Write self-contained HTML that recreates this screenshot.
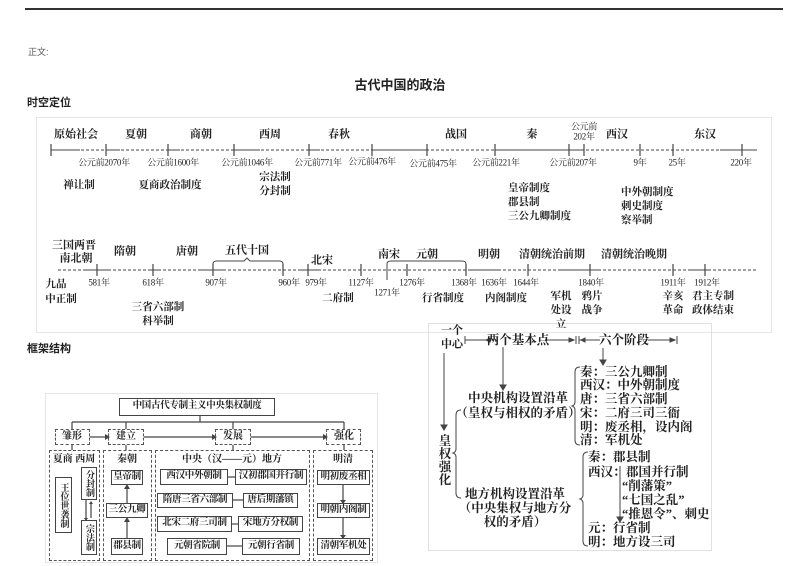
<!DOCTYPE html>
<html><head><meta charset="utf-8"><style>
*{margin:0;padding:0;box-sizing:border-box}
body{width:800px;height:566px;position:relative;background:#fff;overflow:hidden;font-family:"Liberation Serif","Noto Serif CJK SC",serif;color:#222}
.t{position:absolute;white-space:nowrap;transform:translate(-50%,-50%);line-height:1}
.l{position:absolute;white-space:nowrap;line-height:1}
.s{font-family:"Liberation Sans","Noto Sans CJK SC",sans-serif}
.lb{font-size:11px;font-weight:bold}
.d{font-size:9px;letter-spacing:-0.3px}
.m{font-size:10.5px;font-weight:bold}
.bx{position:absolute;border:1.5px solid #444;font-size:9.5px;font-weight:bold;display:flex;align-items:center;justify-content:center;background:#fff;line-height:1.05;text-align:center;white-space:nowrap;letter-spacing:-0.3px}
.v{font-size:9px;letter-spacing:0;line-height:1.1}
.dbx{position:absolute;border:1.2px dashed #555}
.r{font-size:12.5px;font-weight:bold}
svg{position:absolute;left:0;top:0}
</style></head><body>
<div style="position:absolute;left:25px;top:8px;width:758px;height:2px;background:#333"></div>
<div class="l s" style="left:28px;top:48px;font-size:9px;color:#555">正文:</div>
<div class="t s" style="left:400px;top:85px;font-size:13px;font-weight:bold">古代中国的政治</div>
<div class="l s" style="left:27px;top:98px;font-size:11px;font-weight:bold">时空定位</div>
<div style="position:absolute;left:36px;top:117px;width:736px;height:216px;border:1px solid #e6e6e6"></div>
<div class="l s" style="left:27px;top:344px;font-size:11px;font-weight:bold">框架结构</div>
<div style="position:absolute;left:45px;top:393px;width:333px;height:170px;border:1px solid #e6e6e6"></div>
<div style="position:absolute;left:428px;top:323px;width:284px;height:228px;border:1px solid #e0e0e0"></div>

<svg width="800" height="566" viewBox="0 0 800 566">
<g stroke="#444" stroke-width="1" fill="none">
<line x1="51" y1="150" x2="757" y2="150" stroke-dasharray="3,2"/>
<line x1="51" y1="150" x2="80" y2="150"/><line x1="106" y1="150" x2="120" y2="150"/><line x1="168" y1="150" x2="180" y2="150"/><line x1="234" y1="150" x2="260" y2="150"/><line x1="309" y1="150" x2="320" y2="150"/><line x1="372" y1="150" x2="427" y2="150"/><line x1="495" y1="150" x2="569" y2="150"/><line x1="569" y1="150" x2="584" y2="150"/><line x1="720" y1="150" x2="757" y2="150"/>
<g stroke-width="1.2">
<line x1="51" y1="144" x2="51" y2="156"/><line x1="106" y1="144" x2="106" y2="156"/><line x1="168" y1="144" x2="168" y2="156"/><line x1="234" y1="144" x2="234" y2="156"/><line x1="309" y1="144" x2="309" y2="156"/><line x1="372" y1="144" x2="372" y2="156"/><line x1="427" y1="144" x2="427" y2="156"/><line x1="495" y1="144" x2="495" y2="156"/><line x1="569" y1="144" x2="569" y2="156"/><line x1="584" y1="144" x2="584" y2="156"/><line x1="640" y1="144" x2="640" y2="156"/><line x1="673" y1="144" x2="673" y2="156"/><line x1="742" y1="144" x2="742" y2="156"/>
</g>
<line x1="58" y1="270" x2="757" y2="270" stroke-dasharray="3,2"/>
<line x1="85" y1="270" x2="110" y2="270"/><line x1="150" y1="270" x2="160" y2="270"/><line x1="200" y1="270" x2="225" y2="270"/><line x1="300" y1="270" x2="320" y2="270"/><line x1="470" y1="270" x2="500" y2="270"/><line x1="560" y1="270" x2="600" y2="270"/><line x1="690" y1="270" x2="710" y2="270"/>
<g stroke-width="1.2">
<line x1="97" y1="264" x2="97" y2="276"/><line x1="153" y1="264" x2="153" y2="276"/><line x1="213" y1="264" x2="213" y2="276"/><line x1="283" y1="264" x2="283" y2="276"/><line x1="308" y1="264" x2="308" y2="276"/><line x1="361" y1="264" x2="361" y2="276"/><line x1="407" y1="264" x2="407" y2="276"/><line x1="466" y1="264" x2="466" y2="276"/><line x1="528" y1="264" x2="528" y2="276"/><line x1="590" y1="264" x2="590" y2="276"/><line x1="673" y1="264" x2="673" y2="276"/><line x1="705" y1="264" x2="705" y2="276"/>
</g>
<path d="M213 270 V264 Q213 261 217 261 H244 L247 258 L250 261 H279 Q283 261 283 264 V270"/>
<path d="M387 280 V264 Q387 261 391 261 H462 Q466 261 466 264 V270"/>

<g stroke-width="1.2">
<line x1="200" y1="416" x2="200" y2="422"/>
<line x1="72" y1="422" x2="344" y2="422"/>
<line x1="72" y1="422" x2="72" y2="429"/><line x1="126" y1="422" x2="126" y2="429"/><line x1="233" y1="422" x2="233" y2="429"/><line x1="344" y1="422" x2="344" y2="429"/>
<line x1="90" y1="437" x2="105" y2="437"/><line x1="144" y1="437" x2="212" y2="437"/><line x1="251" y1="437" x2="323" y2="437"/>
<line x1="72" y1="445" x2="72" y2="450"/><line x1="126" y1="445" x2="126" y2="450"/><line x1="233" y1="445" x2="233" y2="450"/><line x1="344" y1="445" x2="344" y2="450"/>
<line x1="127" y1="503" x2="127" y2="488"/><line x1="127" y1="538" x2="127" y2="521"/>
<line x1="228" y1="477" x2="235" y2="477"/><line x1="233" y1="500" x2="243" y2="500"/><line x1="232" y1="524" x2="238" y2="524"/><line x1="227" y1="546" x2="242" y2="546"/>
<line x1="343" y1="485" x2="343" y2="500"/><line x1="343" y1="518" x2="343" y2="535"/>
<line x1="86" y1="500" x2="86" y2="520"/><line x1="91" y1="503" x2="91" y2="518"/>
</g>
<g fill="#444" stroke="none">
<path d="M105 434 L110 437 L105 440Z"/><path d="M212 434 L217 437 L212 440Z"/><path d="M323 434 L328 437 L323 440Z"/>
<path d="M124 489 L127 484 L130 489Z"/><path d="M124 522 L127 517 L130 522Z"/>
<path d="M340 500 L343 504 L346 500Z"/><path d="M340 535 L343 539 L346 535Z"/>
<path d="M84 518 L86 521 L88 518Z"/><path d="M89 504 L91 501 L93 504Z"/>
</g>

<g stroke-width="1">
<line x1="465" y1="336" x2="465" y2="344"/><line x1="465" y1="340" x2="490" y2="340"/><line x1="545" y1="340" x2="573" y2="340"/><line x1="576" y1="336" x2="576" y2="344"/>
<line x1="579" y1="336" x2="579" y2="344"/><line x1="579" y1="340" x2="600" y2="340"/><line x1="648" y1="340" x2="672" y2="340"/><line x1="677" y1="336" x2="677" y2="344"/>
<line x1="503" y1="347" x2="503" y2="386"/><line x1="603" y1="348" x2="603" y2="361"/><line x1="444" y1="353" x2="444" y2="426"/>
<line x1="620" y1="466" x2="620" y2="518"/>
<path d="M461 410 Q456 410 456 415 V449 Q456 452 453 453 Q456 454 456 457 V493 Q456 498 461 498"/>
<path d="M580 367 Q575 367 575 372 V402 Q575 405 572 406 Q575 407 575 410 V440 Q575 445 580 445"/>
<path d="M588 452 Q583 452 583 457 V495 Q583 498 580 499 Q583 500 583 503 V541 Q583 546 588 546"/>
</g>
<g fill="#444">
<path d="M486 338 L490 340 L486 342Z" transform="rotate(180 488 340)"/><path d="M569 338 L574 340 L569 342Z"/>
<path d="M581 338 L585 340 L581 342Z" transform="rotate(180 583 340)"/><path d="M670 338 L675 340 L670 342Z"/>
<path d="M500 385 L503 390 L506 385Z"/><path d="M600 360 L603 365 L606 360Z"/><path d="M441 425 L444 430 L447 425Z"/><path d="M617 517 L620 522 L623 517Z"/>
</g>
</g>
</svg>

<div class="t lb" style="left:76px;top:135px">原始社会</div>
<div class="t lb" style="left:136px;top:135px">夏朝</div>
<div class="t lb" style="left:201px;top:135px">商朝</div>
<div class="t lb" style="left:270px;top:135px">西周</div>
<div class="t lb" style="left:339px;top:135px">春秋</div>
<div class="t lb" style="left:456px;top:135px">战国</div>
<div class="t lb" style="left:532px;top:135px">秦</div>
<div class="t d" style="left:584px;top:127px">公元前</div>
<div class="t d" style="left:584px;top:137px">202年</div>
<div class="t lb" style="left:617px;top:135px">西汉</div>
<div class="t lb" style="left:705px;top:135px">东汉</div>
<div class="t d" style="left:104px;top:163px">公元前2070年</div>
<div class="t d" style="left:173px;top:163px">公元前1600年</div>
<div class="t d" style="left:247px;top:163px">公元前1046年</div>
<div class="t d" style="left:318px;top:163px">公元前771年</div>
<div class="t d" style="left:372px;top:162px">公元前476年</div>
<div class="t d" style="left:433px;top:164px">公元前475年</div>
<div class="t d" style="left:496px;top:163px">公元前221年</div>
<div class="t d" style="left:573px;top:163px">公元前207年</div>
<div class="t d" style="left:640px;top:163px">9年</div>
<div class="t d" style="left:677px;top:163px">25年</div>
<div class="t d" style="left:741px;top:163px">220年</div>
<div class="t m" style="left:79px;top:186px">禅让制</div>
<div class="t m" style="left:170px;top:186px">夏商政治制度</div>
<div class="t m" style="left:275px;top:178px">宗法制</div>
<div class="t m" style="left:275px;top:192px">分封制</div>
<div class="l m" style="left:508px;top:184px">皇帝制度</div>
<div class="l m" style="left:508px;top:198px">郡县制</div>
<div class="l m" style="left:508px;top:212px">三公九卿制度</div>
<div class="l m" style="left:621px;top:188px">中外朝制度</div>
<div class="l m" style="left:621px;top:202px">刺史制度</div>
<div class="l m" style="left:621px;top:216px">察举制</div>

<div class="t lb" style="left:74px;top:246px">三国两晋</div>
<div class="t lb" style="left:76px;top:259px">南北朝</div>
<div class="t lb" style="left:125px;top:252px">隋朝</div>
<div class="t lb" style="left:187px;top:252px">唐朝</div>
<div class="t lb" style="left:247px;top:251px">五代十国</div>
<div class="t lb" style="left:322px;top:261px">北宋</div>
<div class="t lb" style="left:389px;top:255px">南宋</div>
<div class="t lb" style="left:427px;top:255px">元朝</div>
<div class="t lb" style="left:489px;top:255px">明朝</div>
<div class="t lb" style="left:552px;top:255px">清朝统治前期</div>
<div class="t lb" style="left:634px;top:255px">清朝统治晚期</div>
<div class="t d" style="left:99px;top:283px">581年</div>
<div class="t d" style="left:153px;top:283px">618年</div>
<div class="t d" style="left:216px;top:283px">907年</div>
<div class="t d" style="left:289px;top:283px">960年</div>
<div class="t d" style="left:316px;top:283px">979年</div>
<div class="t d" style="left:361px;top:283px">1127年</div>
<div class="t d" style="left:387px;top:293px">1271年</div>
<div class="t d" style="left:412px;top:283px">1276年</div>
<div class="t d" style="left:464px;top:283px">1368年</div>
<div class="t d" style="left:494px;top:283px">1636年</div>
<div class="t d" style="left:526px;top:283px">1644年</div>
<div class="t d" style="left:591px;top:283px">1840年</div>
<div class="t d" style="left:673px;top:283px">1911年</div>
<div class="t d" style="left:707px;top:283px">1912年</div>
<div class="t m" style="left:56px;top:285px">九品</div>
<div class="t m" style="left:61px;top:300px">中正制</div>
<div class="t m" style="left:158px;top:308px">三省六部制</div>
<div class="t m" style="left:158px;top:322px">科举制</div>
<div class="t m" style="left:338px;top:299px">二府制</div>
<div class="t m" style="left:443px;top:299px">行省制度</div>
<div class="t m" style="left:506px;top:299px">内阁制度</div>
<div class="t m" style="left:561px;top:297px">军机</div>
<div class="t m" style="left:561px;top:311px">处设</div>
<div class="t m" style="left:561px;top:325px">立</div>
<div class="t m" style="left:592px;top:297px">鸦片</div>
<div class="t m" style="left:592px;top:311px">战争</div>
<div class="t m" style="left:673px;top:297px">辛亥</div>
<div class="t m" style="left:673px;top:311px">革命</div>
<div class="t m" style="left:713px;top:297px">君主专制</div>
<div class="t m" style="left:713px;top:311px">政体结束</div>

<div class="bx" style="left:119px;top:398px;width:156px;height:18px">中国古代专制主义中央集权制度</div>
<div class="dbx" style="left:55px;top:429px;width:35px;height:16px"></div><div class="t m" style="left:72px;top:437px;font-size:10px">雏形</div>
<div class="dbx" style="left:108px;top:429px;width:36px;height:16px"></div><div class="t m" style="left:126px;top:437px;font-size:10px">建立</div>
<div class="dbx" style="left:215px;top:429px;width:36px;height:16px"></div><div class="t m" style="left:233px;top:437px;font-size:10px">发展</div>
<div class="dbx" style="left:326px;top:429px;width:35px;height:16px"></div><div class="t m" style="left:344px;top:437px;font-size:10px">强化</div>
<div class="dbx" style="left:49px;top:450px;width:51px;height:111px"></div>
<div class="dbx" style="left:103px;top:450px;width:49px;height:111px"></div>
<div class="dbx" style="left:155px;top:450px;width:155px;height:111px"></div>
<div class="dbx" style="left:313px;top:450px;width:60px;height:111px"></div>
<div class="t m" style="left:74px;top:460px;font-size:10px">夏商 西周</div>
<div class="bx v" style="left:55px;top:477px;width:17px;height:56px;writing-mode:vertical-rl">王位世袭制</div>
<div class="bx v" style="left:81px;top:467px;width:16px;height:33px;writing-mode:vertical-rl">分封制</div>
<div class="bx v" style="left:81px;top:520px;width:16px;height:35px;writing-mode:vertical-rl">宗法制</div>
<div class="t m" style="left:127px;top:460px;font-size:10px">秦朝</div>
<div class="bx" style="left:111px;top:470px;width:32px;height:15px">皇帝制</div>
<div class="bx" style="left:106px;top:503px;width:42px;height:15px">三公九卿</div>
<div class="bx" style="left:111px;top:538px;width:32px;height:17px">郡县制</div>
<div class="t m" style="left:232px;top:460px;font-size:10px">中央（汉——元）地方</div>
<div class="bx" style="left:160px;top:469px;width:68px;height:16px">西汉中外朝制</div>
<div class="bx" style="left:235px;top:469px;width:72px;height:16px">汉初郡国并行制</div>
<div class="bx" style="left:157px;top:493px;width:76px;height:15px">隋唐三省六部制</div>
<div class="bx" style="left:243px;top:493px;width:55px;height:15px">唐后期藩镇</div>
<div class="bx" style="left:157px;top:516px;width:75px;height:16px">北宋二府三司制</div>
<div class="bx" style="left:238px;top:516px;width:65px;height:16px">宋地方分权制</div>
<div class="bx" style="left:167px;top:538px;width:60px;height:17px">元朝省院制</div>
<div class="bx" style="left:242px;top:538px;width:58px;height:17px">元朝行省制</div>
<div class="t m" style="left:343px;top:460px;font-size:10px">明清</div>
<div class="bx" style="left:317px;top:470px;width:53px;height:15px">明初废丞相</div>
<div class="bx" style="left:317px;top:503px;width:53px;height:15px">明朝内阁制</div>
<div class="bx" style="left:317px;top:538px;width:53px;height:17px">清朝军机处</div>

<div class="t r" style="left:452px;top:331px;font-size:11px">一个</div>
<div class="t r" style="left:452px;top:345px;font-size:11px">中心</div>
<div class="t r" style="left:518px;top:340px">两个基本点</div>
<div class="t r" style="left:624px;top:340px">六个阶段</div>
<div class="t r" style="left:518px;top:398px">中央机构设置沿革</div>
<div class="t r" style="left:518px;top:413px">（皇权与相权的矛盾）</div>
<div class="t r" style="left:445px;top:441px">皇</div>
<div class="t r" style="left:445px;top:454px">权</div>
<div class="t r" style="left:445px;top:467px">强</div>
<div class="t r" style="left:445px;top:480px">化</div>
<div class="t r" style="left:515px;top:494px">地方机构设置沿革</div>
<div class="t r" style="left:515px;top:508px">（中央集权与地方分</div>
<div class="t r" style="left:515px;top:522px">权的矛盾）</div>
<div class="l r" style="left:580px;top:366px">秦：三公九卿制</div>
<div class="l r" style="left:580px;top:379px">西汉：中外朝制度</div>
<div class="l r" style="left:580px;top:393px">唐：三省六部制</div>
<div class="l r" style="left:580px;top:407px">宋：二府三司三衙</div>
<div class="l r" style="left:580px;top:421px">明：废丞相，设内阁</div>
<div class="l r" style="left:580px;top:434px">清：军机处</div>
<div class="l r" style="left:588px;top:451px">秦：郡县制</div>
<div class="l r" style="left:588px;top:466px">西汉：</div>
<div class="l r" style="left:626px;top:466px">郡国并行制</div>
<div class="l r" style="left:622px;top:480px">“削藩策”</div>
<div class="l r" style="left:622px;top:494px">“七国之乱”</div>
<div class="l r" style="left:622px;top:508px">“推恩令”、刺史</div>
<div class="l r" style="left:588px;top:522px">元：行省制</div>
<div class="l r" style="left:588px;top:536px">明：地方设三司</div>
</body></html>
